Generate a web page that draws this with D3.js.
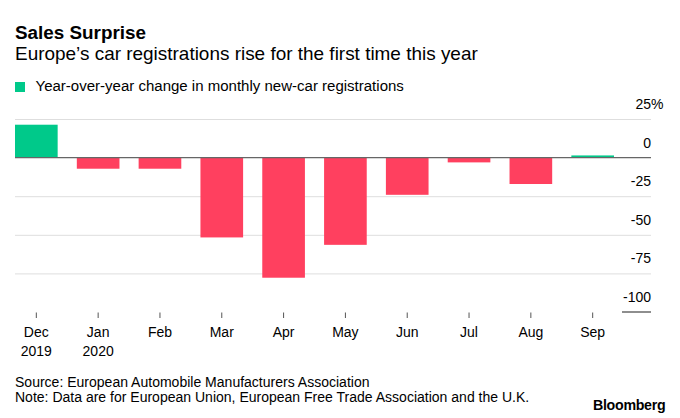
<!DOCTYPE html>
<html>
<head>
<meta charset="utf-8">
<script src="https://cdn.jsdelivr.net/npm/d3@7"></script>
<style>
  html, body { margin: 0; padding: 0; background: #fff; }
  svg { display: block; font-family: "Liberation Sans", Arial, Helvetica, sans-serif; }
</style>
</head>
<body>
<svg id="chart" width="680" height="418"></svg>
<script>
// ---- data ----
const months = ["Dec", "Jan", "Feb", "Mar", "Apr", "May", "Jun", "Jul", "Aug", "Sep"];
const years  = ["2019", "2020", "", "", "", "", "", "", "", ""];
const values = [21.3, -7.2, -7.2, -51.7, -77.8, -56.5, -24.1, -3.1, -17.1, 1.4];
const yTicks = [25, 0, -25, -50, -75, -100];
const yTickLabels = ["25", "0", "-25", "-50", "-75", "-100"];

const title = "Sales Surprise";
const subtitle = "Europe\u2019s car registrations rise for the first time this year";
const legendLabel = "Year-over-year change in monthly new-car registrations";
const sourceText = "Source: European Automobile Manufacturers Association";
const noteText = "Note: Data are for European Union, European Free Trade Association and the U.K.";

const GREEN = "#00c98a", RED = "#ff405f";

const svg = d3.select("#chart");

function fit(sel, width) {
  const w = sel.node().getComputedTextLength();
  const fs = parseFloat(sel.attr("font-size"));
  sel.attr("font-size", fs * width / w);
  return sel;
}

// ---- header ----
fit(svg.append("text").attr("x", 15).attr("y", 38.5).attr("font-size", 17)
  .attr("font-weight", "bold").attr("fill", "#000").text(title), 131);
fit(svg.append("text").attr("x", 15).attr("y", 59.5).attr("font-size", 17)
  .attr("fill", "#000").text(subtitle), 463);
svg.append("rect").attr("x", 15).attr("y", 82).attr("width", 10).attr("height", 10).attr("fill", GREEN);
fit(svg.append("text").attr("x", 35.5).attr("y", 91).attr("font-size", 14)
  .attr("fill", "#000").text(legendLabel), 368.5);

// ---- scales ----
const x = d3.scaleBand().domain(months).range([15, 614]).paddingInner(0.31).paddingOuter(0);
const y = d3.scaleLinear().domain([-100, 25]).range([312, 119]);

const gridX0 = 15, gridX1 = 651;

// gridlines
svg.append("g").selectAll("line").data(yTicks.filter(d => d !== 0 && d !== -100)).join("line")
  .attr("x1", gridX0).attr("x2", gridX1)
  .attr("y1", d => y(d) + 0.5).attr("y2", d => y(d) + 0.5)
  .attr("stroke", "#dedede").attr("stroke-width", 1);

// bars
svg.append("g").selectAll("rect").data(values).join("rect")
  .attr("x", (d, i) => x(months[i]))
  .attr("width", x.bandwidth())
  .attr("y", d => y(Math.max(0, d)))
  .attr("height", d => Math.abs(y(d) - y(0)))
  .attr("fill", d => d >= 0 ? GREEN : RED);

// zero line
svg.append("line").attr("x1", gridX0).attr("x2", gridX1)
  .attr("y1", y(0)).attr("y2", y(0))
  .attr("stroke", "#666").attr("stroke-width", 1.3);

// -100 short line
svg.append("line").attr("x1", 622).attr("x2", gridX1)
  .attr("y1", y(-100)).attr("y2", y(-100))
  .attr("stroke", "#444").attr("stroke-width", 1.2);

// y labels
const yl = svg.append("g").attr("font-size", 14).attr("fill", "#000");
yTicks.forEach((t, i) => {
  yl.append("text").attr("x", gridX1).attr("y", y(t) - 10)
    .attr("text-anchor", "end").text(yTickLabels[i]);
});
yl.append("text").attr("x", gridX1).attr("y", y(25) - 10).attr("text-anchor", "start").text("%");

// x ticks & labels
const xg = svg.append("g");
months.forEach((m, i) => {
  const cx = x(m) + x.bandwidth() / 2;
  xg.append("line").attr("x1", cx).attr("x2", cx).attr("y1", 312.5).attr("y2", 318)
    .attr("stroke", "#555").attr("stroke-width", 1);
  xg.append("text").attr("x", cx).attr("y", 337).attr("text-anchor", "middle")
    .attr("font-size", 14).attr("fill", "#000").text(m);
  if (years[i]) xg.append("text").attr("x", cx).attr("y", 356).attr("text-anchor", "middle")
    .attr("font-size", 14).attr("fill", "#000").text(years[i]);
});

// ---- footer ----
const note = fit(svg.append("text").attr("x", 15).attr("y", 401.7).attr("font-size", 14)
  .attr("fill", "#000").text(noteText), 515);
svg.append("text").attr("x", 15).attr("y", 386.7).attr("font-size", note.attr("font-size"))
  .attr("fill", "#000").text(sourceText);
fit(svg.append("text").attr("x", 593).attr("y", 410).attr("font-size", 15)
  .attr("font-weight", "bold").attr("fill", "#000").attr("letter-spacing", -0.3).text("Bloomberg"), 72.5);
</script>
</body>
</html>
